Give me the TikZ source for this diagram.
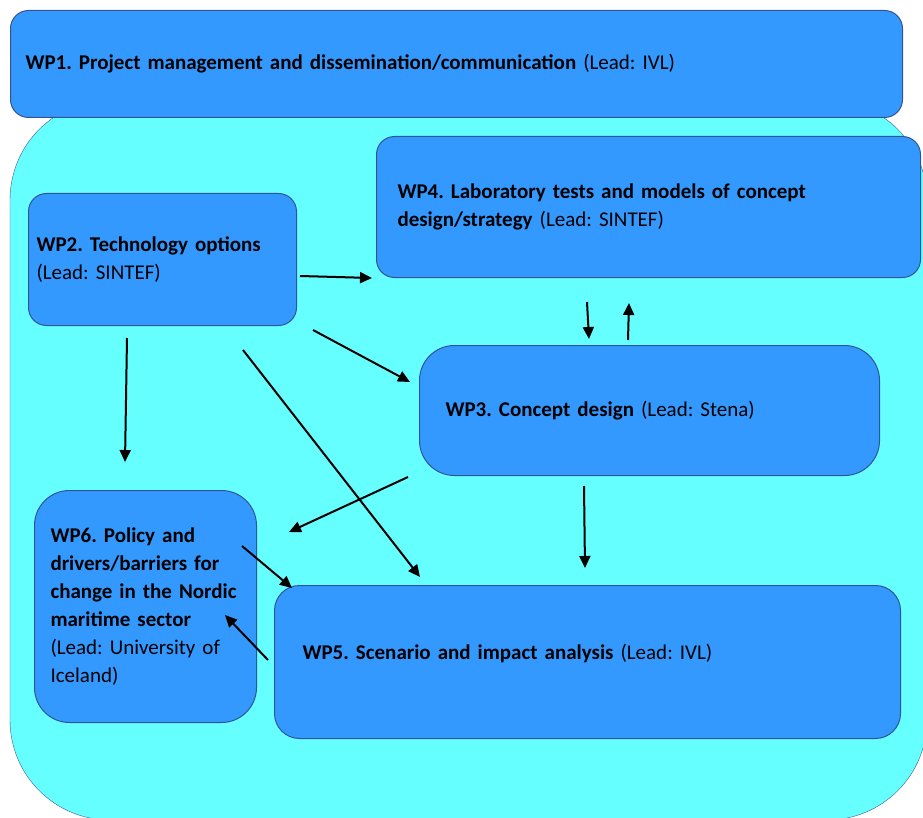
\documentclass[tikz,border=0pt]{standalone}
\usepackage{fontspec}
\setmainfont{Carlito}
\frenchspacing
\usetikzlibrary{arrows.meta}
\definecolor{wpblue}{RGB}{51,153,255}
\definecolor{wpedge}{RGB}{47,85,151}
\definecolor{bgcyan}{RGB}{102,255,255}
\definecolor{bgedge}{RGB}{65,90,150}

\begin{document}
\begin{tikzpicture}[x=1pt,y=-1pt,
    wp/.style={draw=wpedge, line width=1pt, fill=wpblue, rounded corners=18pt,
      anchor=north west, align=left, inner ysep=0pt,
      font=\fontsize{21}{28}\selectfont},
    flow/.style={line width=2pt, -{Triangle[length=12pt,width=11pt]}}]
  \useasboundingbox (0,0) rectangle (923,818);
  \begin{scope}
    \clip (0,0) rectangle (923,818);
    \draw[bgedge, fill=bgcyan, rounded corners=100pt] (10,100) rectangle (927,820);
  \end{scope}
  % work packages
  \node[wp, minimum height=107pt, inner xsep=15pt, text width=862pt] (wp1) at (10,10)
    {\textbf{WP1. Project management and dissemination/communication} (Lead: IVL)};
  \node[wp, minimum height=141pt, inner xsep=21pt, text width=502pt] (wp4) at (376,136)
    {\textbf{WP4. Laboratory tests and models of concept}\\\textbf{design/strategy} (Lead: SINTEF)};
  \node[wp, minimum height=132pt, inner xsep=8pt, text width=252pt] (wp2) at (28,193)
    {\textbf{WP2. Technology options}\\(Lead: SINTEF)};
  \node[wp, rounded corners=35pt, minimum height=130pt, inner xsep=26pt, text width=408pt] (wp3) at (419,345)
    {\textbf{WP3. Concept design} (Lead: Stena)};
  \node[wp, rounded corners=35pt, minimum height=232pt, inner xsep=16pt, text width=190pt] (wp6) at (34,490)
    {\textbf{WP6. Policy and}\\\textbf{drivers/barriers for}\\\textbf{change in the Nordic}\\\textbf{maritime sector}\\(Lead: University of\\Iceland)};
  \node[wp, rounded corners=25pt, minimum height=153pt, inner xsep=28pt, text width=570pt,
    text depth=20pt] (wp5) at (274,585)
    {\textbf{WP5. Scenario and impact analysis} (Lead: IVL)};
  % arrow ends
  \coordinate (a24s) at (300,276);  \coordinate (a24e) at (372,278);
  \coordinate (a23s) at (313,330);  \coordinate (a23e) at (410,382);
  \coordinate (a26s) at (127,338);  \coordinate (a26e) at (125,462);
  \coordinate (a25s) at (243,350);  \coordinate (a25e) at (420,577);
  \coordinate (a43s) at (587,302);  \coordinate (a43e) at (589,339);
  \coordinate (a34s) at (628,340);  \coordinate (a34e) at (629,303);
  \coordinate (a36s) at (408,477);  \coordinate (a36e) at (289,532);
  \coordinate (a35s) at (584,486);  \coordinate (a35e) at (585,568);
  \coordinate (a65s) at (242,546);  \coordinate (a65e) at (292,588);
  \coordinate (a56s) at (268,660);  \coordinate (a56e) at (225,615);
  \draw[flow] (a24s) -- (a24e);
  \draw[flow] (a23s) -- (a23e);
  \draw[flow] (a26s) -- (a26e);
  \draw[flow] (a25s) -- (a25e);
  \draw[flow] (a43s) -- (a43e);
  \draw[flow] (a34s) -- (a34e);
  \draw[flow] (a36s) -- (a36e);
  \draw[flow] (a35s) -- (a35e);
  \draw[flow] (a65s) -- (a65e);
  \draw[flow] (a56s) -- (a56e);
\end{tikzpicture}
\end{document}
